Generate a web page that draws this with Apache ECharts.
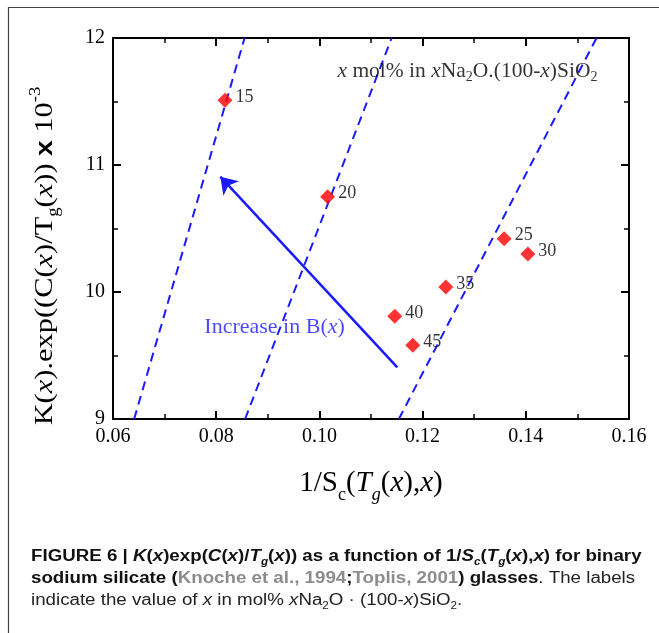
<!DOCTYPE html>
<html>
<head>
<meta charset="utf-8">
<script src="https://cdn.jsdelivr.net/npm/echarts@6.0.0/dist/echarts.min.js"></script>
<style>
  html, body { margin: 0; padding: 0; background: #fff; }
  #chart { width: 659px; height: 633px; }
</style>
</head>
<body>
<div id="chart"></div>
<script>
// composition labels (x mol% Na2O) and their positions
const compLabels = ['15', '20', '25', '30', '35', '40', '45'];
const invSc = [0.0817, 0.1016, 0.1358, 0.1404, 0.1245, 0.1146, 0.1181];
const kExp = [11.51, 10.75, 10.42, 10.30, 10.04, 9.81, 9.58];

// dashed guide lines: x at y = 9 and at y = 12
const guideY = [9, 12];
const guideX = [
  [0.0641, 0.0855],
  [0.0856, 0.1140],
  [0.1154, 0.1537]
];

// "increase in B(x)" arrow, tail -> head
const arrowFrom = [0.1151, 9.407];
const arrowTo = [0.0808, 10.908];

// where the two notes sit (data coords)
const notePos = [0.1035, 11.736];
const bNotePos = [0.0777, 9.724];

const xTicks = ['0.06', '0.08', '0.10', '0.12', '0.14', '0.16'];
const yTicks = ['9', '10', '11', '12'];

const serif = 'Liberation Serif';
const sans = 'Liberation Sans';
const blue = '#1a1aff';

const chart = echarts.init(document.getElementById('chart'), null, { renderer: 'canvas' });

function axisCommon(showLabel, ticks) {
  return {
    axisLine: { show: true, onZero: false, lineStyle: { color: '#000', width: 2 } },
    axisTick: { show: true, inside: true, length: 8, lineStyle: { color: '#000', width: 2 } },
    minorTick: { show: true, splitNumber: 2, length: 5, lineStyle: { color: '#000', width: 1.5 } },
    splitLine: { show: false },
    axisLabel: {
      show: showLabel,
      color: '#000',
      fontFamily: serif,
      fontSize: 20,
      formatter: function (v) {
        // pick label text from the tick list
        for (let i = 0; i < ticks.length; i++) {
          if (Math.abs(parseFloat(ticks[i]) - v) < 1e-6) return ticks[i];
        }
        return '';
      }
    }
  };
}

const xBase = { type: 'value', min: 0.06, max: 0.16, interval: 0.02 };
const yBase = { type: 'value', min: 9, max: 12, interval: 1 };

const guideSeries = guideX.map(function (gx) {
  return {
    type: 'line',
    data: [[gx[0], guideY[0]], [gx[1], guideY[1]]],
    showSymbol: false,
    symbol: 'none',
    silent: true,
    lineStyle: { color: blue, width: 2, type: [9, 6] },
    z: 2
  };
});

const option = {
  animation: false,
  backgroundColor: '#fff',
  grid: { left: 113, top: 38, right: 30, bottom: 214, containLabel: false },
  xAxis: [
    Object.assign({}, xBase, axisCommon(true, xTicks), { position: 'bottom' }),
    Object.assign({}, xBase, axisCommon(false, xTicks), { position: 'top' })
  ],
  yAxis: [
    Object.assign({}, yBase, axisCommon(true, yTicks), { position: 'left' }),
    Object.assign({}, yBase, axisCommon(false, yTicks), { position: 'right' })
  ],
  series: guideSeries.concat([
    {
      type: 'scatter',
      data: invSc.map(function (x, i) { return [x, kExp[i], compLabels[i]]; }),
      symbol: 'diamond',
      symbolSize: 15,
      itemStyle: { color: '#ff0000' },
      label: {
        show: true,
        position: 'right',
        distance: 3,
        offset: [0, -3],
        color: '#000',
        fontFamily: serif,
        fontSize: 18,
        formatter: function (p) { return p.data[2]; }
      },
      z: 5,
      markLine: {
        silent: true,
        symbol: ['none', 'arrow'],
        symbolSize: 16,
        label: { show: false },
        emphasis: { disabled: true },
        lineStyle: { color: blue, width: 2.5, type: 'solid' },
        data: [[{ coord: arrowFrom }, { coord: arrowTo }]]
      }
    },
    {
      type: 'scatter',
      symbolSize: 0,
      silent: true,
      data: [notePos.concat(['note']), bNotePos.concat(['b'])],
      label: {
        show: true,
        position: 'right',
        distance: 0,
        formatter: function (p) {
          if (p.data[2] === 'note') {
            return '{i|x}{n| mol% in }{i|x}{n|Na}{s|2}{n|O.(100-}{i|x}{n|)SiO}{s|2}';
          }
          return '{b|Increase in B(}{bi|x}{b|)}';
        },
        rich: {
          n: { fontFamily: serif, fontSize: 21.5, color: '#000', lineHeight: 26 },
          i: { fontFamily: serif, fontSize: 21.5, fontStyle: 'italic', color: '#000', lineHeight: 26 },
          s: { fontFamily: serif, fontSize: 14, color: '#000', lineHeight: 14, verticalAlign: 'bottom' },
          b: { fontFamily: serif, fontSize: 22, color: blue, lineHeight: 26 },
          bi: { fontFamily: serif, fontSize: 22, fontStyle: 'italic', color: blue, lineHeight: 26 }
        }
      }
    }
  ]),
  graphic: [
    // frame
    { type: 'line', shape: { x1: 8, y1: 7.5, x2: 659, y2: 7.5 }, style: { stroke: '#444', lineWidth: 1.2 } },
    { type: 'line', shape: { x1: 8.5, y1: 7, x2: 8.5, y2: 633 }, style: { stroke: '#444', lineWidth: 1.2 } },
    // y axis title
    {
      type: 'text',
      x: 45, y: 256,
      rotation: Math.PI / 2,
      scaleX: 1.17,
      style: {
        text: '{n|K(}{i|x}{n|).exp((C(}{i|x}{n|)/T}{s|g}{n|(}{i|x}{n|)) }{m|x}{n| 10}{p|-3}',
        align: 'center',
        verticalAlign: 'middle',
        rich: {
          n: { fontFamily: serif, fontSize: 26, fill: '#000', lineHeight: 34 },
          i: { fontFamily: serif, fontSize: 26, fontStyle: 'italic', fill: '#000', lineHeight: 34 },
          m: { fontFamily: sans, fontSize: 24, fontWeight: 'bold', fill: '#000', lineHeight: 34 },
          s: { fontFamily: serif, fontSize: 16, fill: '#000', lineHeight: 16, verticalAlign: 'bottom' },
          p: { fontFamily: serif, fontSize: 16, fill: '#000', lineHeight: 10, verticalAlign: 'top' }
        }
      }
    },
    // x axis title
    {
      type: 'text',
      x: 371, y: 483,
      style: {
        text: '{n|1/S}{s|c}{n|(}{i|T}{si|g}{n|(}{i|x}{n|),}{i|x}{n|)}',
        align: 'center',
        verticalAlign: 'middle',
        rich: {
          n: { fontFamily: serif, fontSize: 29, fill: '#000', lineHeight: 42 },
          i: { fontFamily: serif, fontSize: 29, fontStyle: 'italic', fill: '#000', lineHeight: 42 },
          s: { fontFamily: serif, fontSize: 18, fill: '#000', lineHeight: 18, verticalAlign: 'bottom' },
          si: { fontFamily: serif, fontSize: 18, fontStyle: 'italic', fill: '#000', lineHeight: 18, verticalAlign: 'bottom' }
        }
      }
    },
    // caption
    {
      type: 'text',
      x: 31, y: 557,
      scaleX: 1.17,
      style: {
        text: '{b|FIGURE 6 | }{bi|K}{b|(}{bi|x}{b|)exp(}{bi|C}{b|(}{bi|x}{b|)/}{bi|T}{bs|g}{b|(}{bi|x}{b|)) as a function of 1/}{bi|S}{bs|c}{b|(}{bi|T}{bs|g}{b|(}{bi|x}{b|),}{bi|x}{b|) for binary}',
        align: 'left',
        verticalAlign: 'middle',
        rich: {
          b: { fontFamily: sans, fontSize: 16, fontWeight: 'bold', fill: '#111', lineHeight: 20 },
          bi: { fontFamily: sans, fontSize: 16, fontWeight: 'bold', fontStyle: 'italic', fill: '#111', lineHeight: 20 },
          bs: { fontFamily: sans, fontSize: 10, fontWeight: 'bold', fontStyle: 'italic', fill: '#111', lineHeight: 12, verticalAlign: 'bottom' }
        }
      }
    },
    {
      type: 'text',
      x: 31, y: 579,
      scaleX: 1.17,
      style: {
        text: '{b|sodium silicate (}{g|Knoche et al., 1994}{b|;}{g|Toplis, 2001}{b|) glasses}{r|. The labels}',
        align: 'left',
        verticalAlign: 'middle',
        rich: {
          b: { fontFamily: sans, fontSize: 16, fontWeight: 'bold', fill: '#111', lineHeight: 20 },
          g: { fontFamily: sans, fontSize: 16, fontWeight: 'bold', fill: '#8c8c8c', lineHeight: 20 },
          r: { fontFamily: sans, fontSize: 16, fill: '#222', lineHeight: 20 }
        }
      }
    },
    {
      type: 'text',
      x: 31, y: 601,
      scaleX: 1.17,
      style: {
        text: '{r|indicate the value of }{ri|x}{r| in mol% }{ri|x}{r|Na}{rs|2}{r|O \u00b7 (100-}{ri|x}{r|)SiO}{rs|2}{r|.}',
        align: 'left',
        verticalAlign: 'middle',
        rich: {
          r: { fontFamily: sans, fontSize: 16, fill: '#222', lineHeight: 20 },
          ri: { fontFamily: sans, fontSize: 16, fontStyle: 'italic', fill: '#222', lineHeight: 20 },
          rs: { fontFamily: sans, fontSize: 10, fill: '#222', lineHeight: 12, verticalAlign: 'bottom' }
        }
      }
    }
  ]
};

chart.setOption(option);
</script>
</body>
</html>
